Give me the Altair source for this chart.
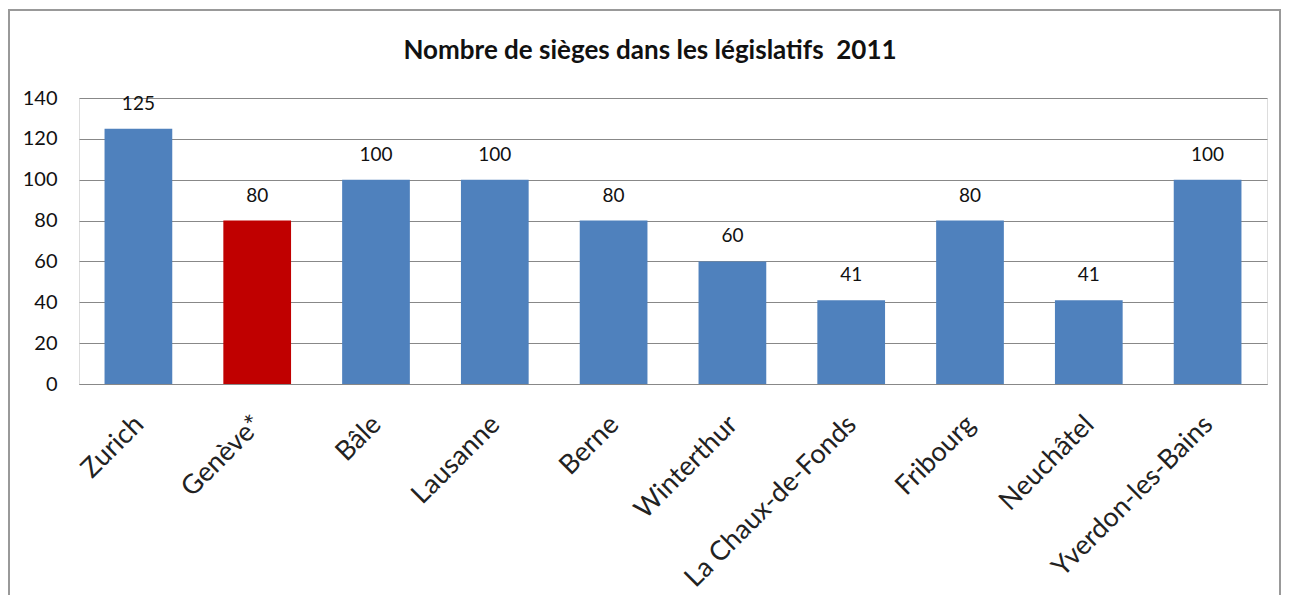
import altair as alt
import pandas as pd

villes = ["Zurich", "Genève*", "Bâle", "Lausanne", "Berne", "Winterthur",
          "La Chaux-de-Fonds", "Fribourg", "Neuchâtel", "Yverdon-les-Bains"]
sieges = [125, 80, 100, 100, 80, 60, 41, 80, 41, 100]
groupe = ["autre", "geneve", "autre", "autre", "autre", "autre", "autre", "autre", "autre", "autre"]

df = pd.DataFrame({"ville": villes, "sieges": sieges, "groupe": groupe})

FONT = "Lato"
W, H = 1188, 286

x = alt.X("ville:N", sort=villes, title=None,
          scale=alt.Scale(paddingInner=0.43, paddingOuter=0.215),
          axis=alt.Axis(labelAngle=-45, labelFontSize=27, labelColor="#222",
                        labelFont=FONT, ticks=False, domain=True, domainColor="#888",
                        labelPadding=36, labelOffset=1, labelLimit=0,
                        labelBaseline="middle", labelAlign="right"))
y = alt.Y("sieges:Q", title=None,
          scale=alt.Scale(domain=[0, 140]),
          axis=alt.Axis(values=[0, 20, 40, 60, 80, 100, 120, 140], grid=True,
                        gridColor="#888", ticks=False, domain=False,
                        labelFontSize=20, labelFont=FONT, labelColor="#111",
                        labelPadding=22))

bars = alt.Chart(df).mark_bar().encode(
    x=x, y=y,
    color=alt.Color("groupe:N",
                    scale=alt.Scale(domain=["autre", "geneve"], range=["#4F81BD", "#C00000"]),
                    legend=None),
)

labels = alt.Chart(df).mark_text(dy=-25, fontSize=19, font=FONT, color="#111",
                                 baseline="middle").encode(
    x=alt.X("ville:N", sort=villes), y="sieges:Q", text="sieges:Q")

border = alt.Chart(df).mark_rect(fill=None, stroke="#999", strokeWidth=2).encode(
    x=alt.value(-70), x2=alt.value(W + 13), y=alt.value(-88), y2=alt.value(H + 300))

chart = alt.layer(border, bars, labels).properties(
    width=W, height=H,
    autosize=alt.AutoSizeParams(type="none"),
    padding={"left": 71, "top": 90, "right": 14, "bottom": 211},
    title=alt.TitleParams("Nombre de sièges dans les législatifs\u00a0 2011",
                          fontSize=26, font=FONT, fontWeight="bold", color="#111",
                          anchor="middle", dx=-23, offset=0, dy=55),
).configure_view(stroke=None).configure(background="white")

chart.save("out.html", embed_options={"renderer": "svg", "actions": False})
